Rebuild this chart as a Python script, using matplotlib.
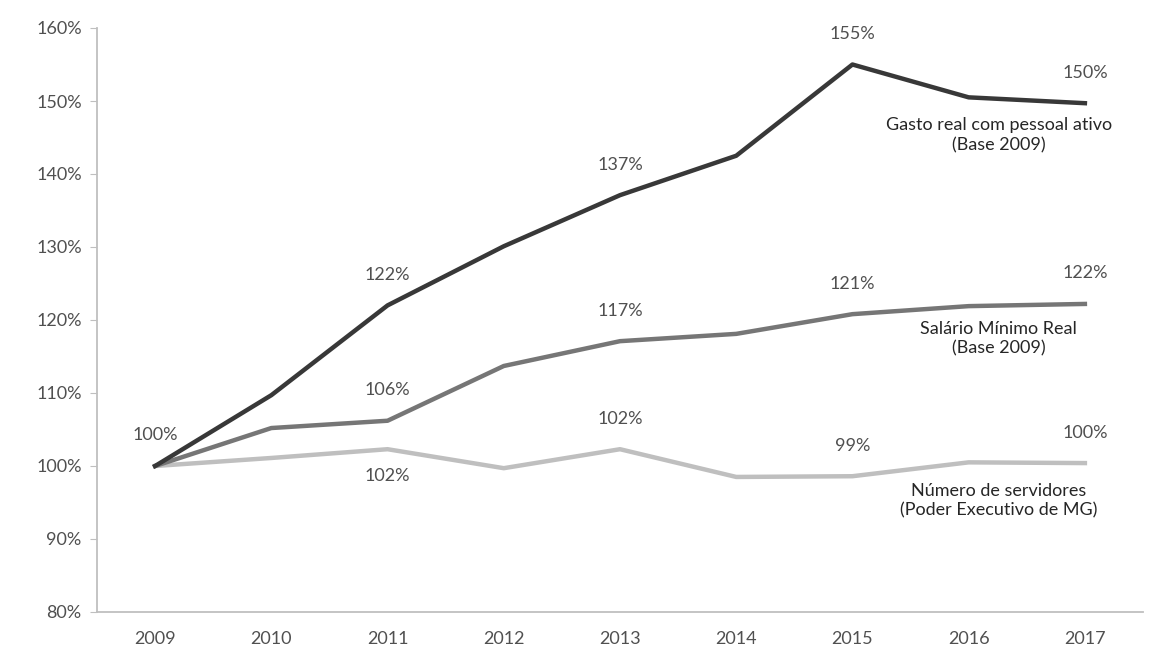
import matplotlib.pyplot as plt
import numpy as np

plt.rcParams['font.family'] = ['Lato', 'DejaVu Sans']

anos = ['2009', '2010', '2011', '2012', '2013', '2014', '2015', '2016', '2017']
gasto = [100, 109.7, 122.0, 130.1, 137.1, 142.5, 155.0, 150.5, 149.7]
salario = [100, 105.2, 106.2, 113.7, 117.1, 118.1, 120.8, 121.9, 122.2]
servidores = [100, 101.1, 102.3, 99.7, 102.3, 98.5, 98.6, 100.5, 100.4]

# which points get a value label: (index, above?)
rot_gasto = [(2, True), (4, True), (6, True), (8, True)]
rot_salario = [(2, True), (4, True), (6, True), (8, True)]
rot_servidores = [(0, True), (2, False), (4, True), (6, True), (8, True)]

cor_texto = '#505050'
cor_eixo = '#bfbfbf'

fig = plt.figure(figsize=(11.64, 6.71), dpi=100)
ax = fig.add_axes([97/1164, 1 - 612/671, (1143 - 97)/1164, (612 - 28)/671])

x = np.arange(len(anos))
ax.plot(x, servidores, color='#bfbfbf', linewidth=3.2, solid_joinstyle='round')
ax.plot(x, salario, color='#767676', linewidth=3.2, solid_joinstyle='round')
ax.plot(x, gasto, color='#383838', linewidth=3.2, solid_joinstyle='round')

def rotulos(serie, pontos):
    for i, acima in pontos:
        dy = 22 if acima else -19
        ax.annotate(f'{round(serie[i]):.0f}%', (x[i], serie[i]), xytext=(0, dy),
                    textcoords='offset points', ha='center', va='center',
                    fontsize=13, color=cor_texto)

rotulos(gasto, rot_gasto)
rotulos(salario, rot_salario)
rotulos(servidores, rot_servidores)

# series names
nomes = [('Gasto real com pessoal ativo\n(Base 2009)', gasto, -10),
         ('Salário Mínimo Real\n(Base 2009)', salario, -12),
         ('Número de servidores\n(Poder Executivo de MG)', servidores, -14)]
for txt, serie, dy in nomes:
    ax.annotate(txt, (x[-1], serie[-1]), xytext=(-62, dy),
                textcoords='offset points', ha='center', va='top', fontsize=13,
                color='#262626', linespacing=1.3)

ax.set_xlim(-0.5, len(anos) - 0.5)
ax.set_ylim(80, 160)
ax.set_xticks(x)
ax.set_xticklabels(anos)
ax.set_yticks(np.arange(80, 161, 10))
ax.set_yticklabels([f'{v}%' for v in range(80, 161, 10)])

for s in ['top', 'right']:
    ax.spines[s].set_visible(False)
for s in ['left', 'bottom']:
    ax.spines[s].set_color(cor_eixo)
    ax.spines[s].set_linewidth(1.3)

ax.tick_params(axis='y', length=5, color=cor_eixo, labelsize=13, labelcolor=cor_texto, pad=6)
ax.tick_params(axis='x', length=0, labelsize=13, labelcolor=cor_texto, pad=14)

fig.savefig('out.png', dpi=100)
